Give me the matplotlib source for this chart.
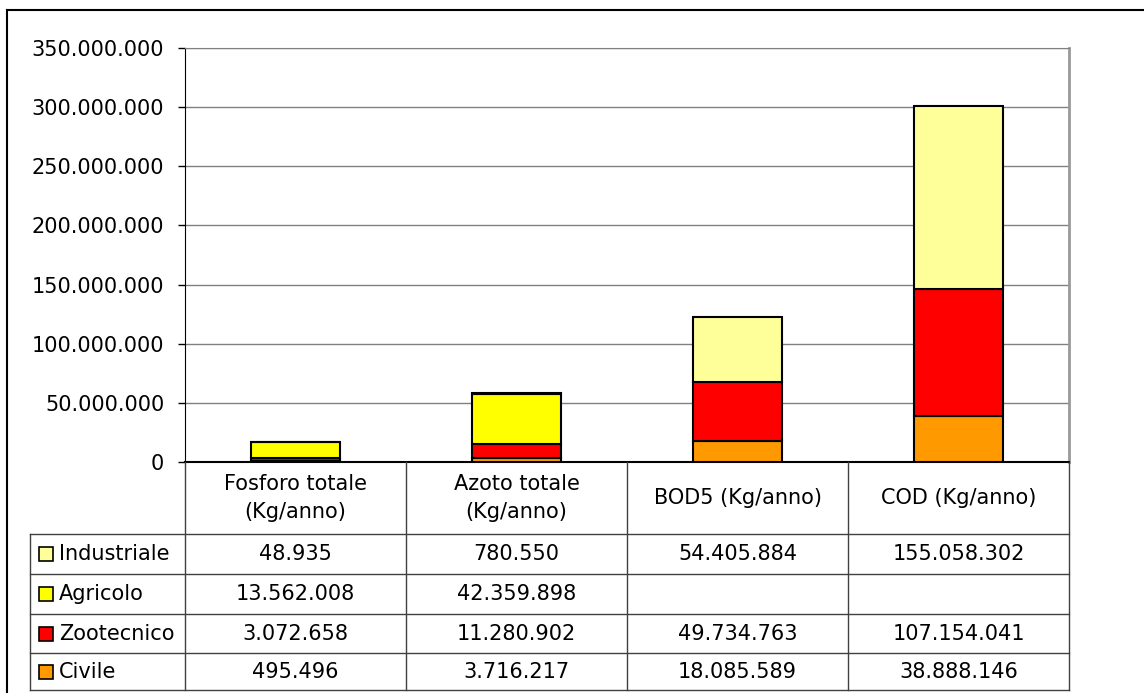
import matplotlib.pyplot as plt
import numpy as np
from matplotlib.lines import Line2D
from matplotlib.patches import Rectangle
from matplotlib.ticker import FuncFormatter

plt.rcParams['font.family'] = ['DejaVu Sans']

# data
categories = ["Fosforo totale\n(Kg/anno)", "Azoto totale\n(Kg/anno)", "BOD5 (Kg/anno)", "COD (Kg/anno)"]
series = ["Industriale", "Agricolo", "Zootecnico", "Civile"]
civile = [495496, 3716217, 18085589, 38888146]
zootecnico = [3072658, 11280902, 49734763, 107154041]
agricolo = [13562008, 42359898, None, None]
industriale = [48935, 780550, 54405884, 155058302]
colors = {"Industriale": "#FFFF99", "Agricolo": "#FFFF00", "Zootecnico": "#FF0000", "Civile": "#FF9900"}

FS = 15
W, H = 1144, 693
fig = plt.figure(figsize=(W / 100, H / 100), dpi=100)

def fx(px):
    return px / W

def fy(py):
    return 1 - py / H

# plot area in pixels
left, right, top, bottom = 185, 1069, 48, 462
ax = fig.add_axes([fx(left), fy(bottom), fx(right - left), (bottom - top) / H])

x = np.arange(len(categories))
base = np.zeros(len(categories))
stack = [("Civile", civile), ("Zootecnico", zootecnico), ("Agricolo", agricolo), ("Industriale", industriale)]
for name, vals in stack:
    v = np.array([0 if a is None else a for a in vals], dtype=float)
    mask = v > 0
    ax.bar(x[mask], v[mask], bottom=base[mask], width=0.4, color=colors[name],
           edgecolor="black", linewidth=1.5, zorder=3)
    base += v

ax.set_xlim(-0.5, len(categories) - 0.5)
ax.set_ylim(0, 350000000)
ax.set_yticks(np.arange(0, 350000001, 50000000))
ax.yaxis.set_major_formatter(FuncFormatter(lambda v, p: f"{int(v):,}".replace(",", ".")))
ax.tick_params(axis="y", labelsize=FS, length=5, width=1, pad=10)
ax.set_xticks([])
ax.grid(axis="y", color="#808080", linewidth=1, zorder=0)
ax.spines["left"].set_color("black")
ax.spines["bottom"].set_color("black")
ax.spines["bottom"].set_linewidth(1.5)
ax.spines["top"].set_color("#808080")
ax.spines["right"].set_color("#999999")
ax.spines["right"].set_linewidth(2)

# outer frame
fig.add_artist(Line2D([fx(7), fx(7)], [fy(10), fy(H)], color="black", linewidth=1.5))
fig.add_artist(Line2D([fx(7), 1], [fy(10), fy(10)], color="black", linewidth=1.5))

# data table below the chart
col_w = (right - left) / len(categories)
col_edges = [left + i * col_w for i in range(len(categories) + 1)]
row_edges = [534, 574, 614, 653, 690]
tbl_left = 30
line_c = "#404040"

for cx in col_edges:
    fig.add_artist(Line2D([fx(cx), fx(cx)], [fy(bottom), fy(row_edges[-1])], color=line_c, linewidth=1))
fig.add_artist(Line2D([fx(tbl_left), fx(tbl_left)], [fy(row_edges[0]), fy(row_edges[-1])], color=line_c, linewidth=1))
for ry in row_edges:
    fig.add_artist(Line2D([fx(tbl_left), fx(right)], [fy(ry), fy(ry)], color=line_c, linewidth=1))

for i, cat in enumerate(categories):
    cx = (col_edges[i] + col_edges[i + 1]) / 2
    fig.text(fx(cx), fy((bottom + row_edges[0]) / 2), cat, ha="center", va="center",
             fontsize=FS, linespacing=1.5)

table_rows = [("Industriale", industriale), ("Agricolo", agricolo),
              ("Zootecnico", zootecnico), ("Civile", civile)]
for r, (name, vals) in enumerate(table_rows):
    ry0, ry1 = row_edges[r], row_edges[r + 1]
    cy = (ry0 + ry1) / 2
    fig.add_artist(Rectangle((fx(39), fy(cy + 7)), 14 / W, 14 / H, facecolor=colors[name],
                             edgecolor="black", linewidth=1.2))
    fig.text(fx(59), fy(cy), name, ha="left", va="center", fontsize=FS)
    for i, v in enumerate(vals):
        if v is None:
            continue
        cx = (col_edges[i] + col_edges[i + 1]) / 2
        fig.text(fx(cx), fy(cy), f"{v:,}".replace(",", "."), ha="center", va="center", fontsize=FS)

fig.savefig("out.png", dpi=100)
